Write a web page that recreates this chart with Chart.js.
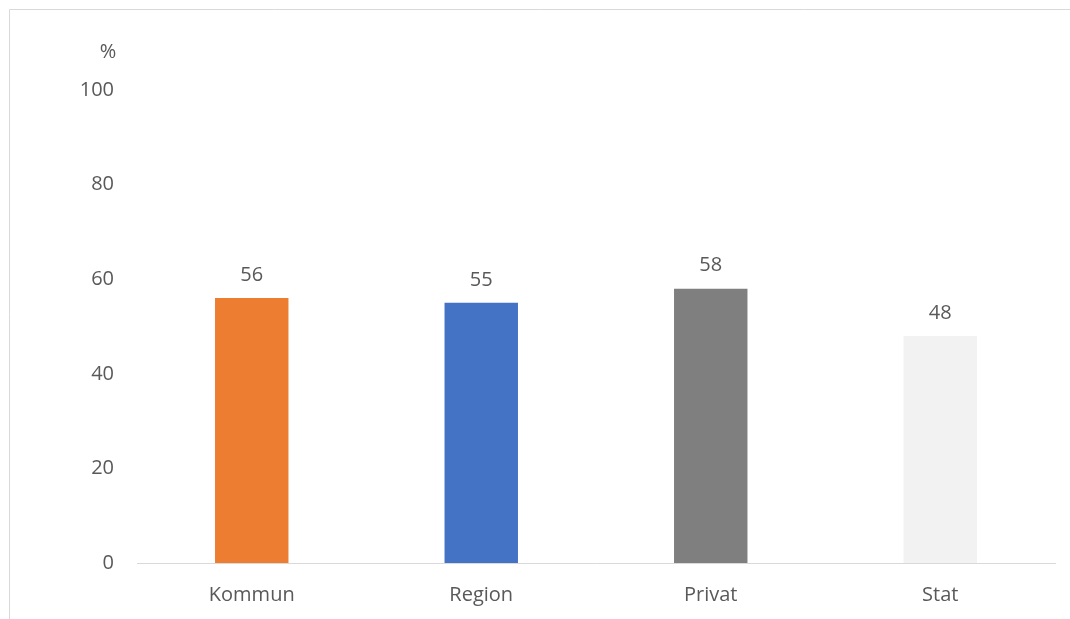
<!DOCTYPE html>
<html>
<head>
<meta charset="utf-8">
<script src="https://cdn.jsdelivr.net/npm/chart.js@4"></script>
<style>
  html, body { margin: 0; padding: 0; background: #fff; }
  #wrap { width: 1070px; height: 619px; position: relative; }
</style>
</head>
<body>
<div id="wrap"><canvas id="barChart" width="1070" height="619"></canvas></div>
<script>
const categories = ["Kommun", "Region", "Privat", "Stat"];
const values = [56, 55, 58, 48];
const barColors = ["#ED7D31", "#4472C4", "#7F7F7F", "#F2F2F2"];
const yTicks = [0, 20, 40, 60, 80, 100];
const unitLabel = "%";

const textColor = "#595959";
const fontFamily = "'Open Sans', 'Liberation Sans', sans-serif";
const fontSize = 20;

// ram runt diagrammet + "%" ovanför axeln + värden ovanför staplarna
const extras = {
  id: "extras",
  beforeDraw(chart) {
    const ctx = chart.ctx;
    ctx.save();
    ctx.strokeStyle = "#d9d9d9";
    ctx.lineWidth = 1;
    ctx.beginPath();
    ctx.moveTo(9.5, chart.height);
    ctx.lineTo(9.5, 9.5);
    ctx.lineTo(chart.width, 9.5);
    ctx.stroke();
    ctx.restore();
  },
  afterDatasetsDraw(chart) {
    const ctx = chart.ctx;
    ctx.save();
    ctx.fillStyle = textColor;
    ctx.font = `${fontSize}px ${fontFamily}`;
    ctx.textAlign = "center";
    ctx.textBaseline = "middle";
    const meta = chart.getDatasetMeta(0);
    meta.data.forEach((bar, i) => {
      ctx.fillText(values[i], bar.x, bar.y - 23);
    });
    ctx.fillText(unitLabel, 108, 52);
    ctx.restore();
  },
};

new Chart(document.getElementById("barChart"), {
  type: "bar",
  data: {
    labels: categories,
    datasets: [
      {
        data: values,
        backgroundColor: barColors,
        borderWidth: 0,
        barPercentage: 0.32,
        categoryPercentage: 1,
      },
    ],
  },
  options: {
    responsive: false,
    animation: false,
    layout: { padding: { top: 90, right: 15, bottom: 0, left: 0 } },
    plugins: {
      legend: { display: false },
      tooltip: { enabled: false },
    },
    scales: {
      x: {
        grid: { display: false },
        border: { display: true, color: "#d9d9d9", width: 1 },
        ticks: {
          color: textColor,
          font: { family: fontFamily, size: fontSize },
          padding: 12,
          maxRotation: 0,
        },
        afterFit(scale) { scale.height = 56; },
      },
      y: {
        min: 0,
        max: 100,
        grid: { display: false },
        border: { display: false },
        afterBuildTicks(scale) { scale.ticks = yTicks.map((v) => ({ value: v })); },
        ticks: {
          color: textColor,
          font: { family: fontFamily, size: fontSize },
          padding: 15,
        },
        afterFit(scale) { scale.width = 137; },
      },
    },
  },
  plugins: [extras],
});
</script>
</body>
</html>
